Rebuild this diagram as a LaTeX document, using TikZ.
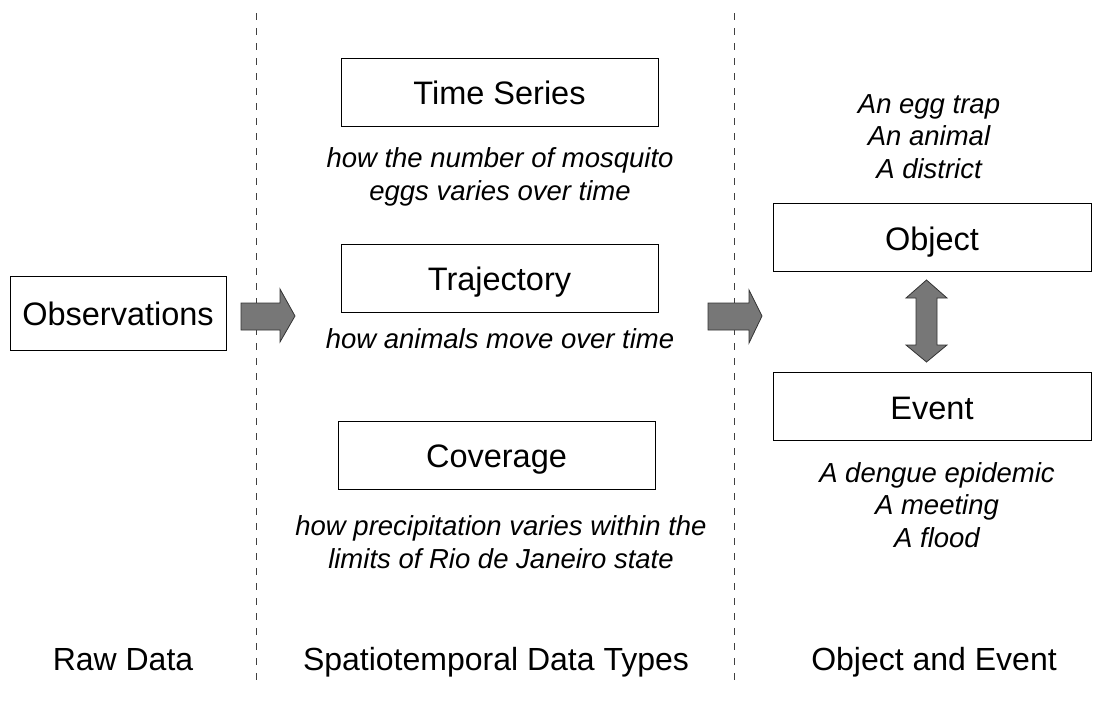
\documentclass[tikz,border=0pt]{standalone}
\usepackage{fontspec}
\setmainfont{Liberation Sans}
\usetikzlibrary{positioning,calc}
\definecolor{arrowgray}{HTML}{777777}
\tikzset{
  box/.style={draw, line width=0.9pt, minimum width=317pt, minimum height=68pt, inner sep=0pt,
    text height=25pt, text depth=0pt, font=\fontsize{32.5}{38}\selectfont},
  note/.style={align=center, inner sep=0pt, font=\fontsize{27.5}{32.5}\selectfont\itshape},
  title/.style={inner sep=0pt, font=\fontsize{32}{38}\selectfont},
  divider/.style={black!75, line width=0.9pt, dash pattern=on 7pt off 8pt},
  fatarrow/.style={fill=arrowgray, draw=black!80, line width=0.8pt, line join=miter}
}
\begin{document}
\begin{tikzpicture}[x=1pt, y=-1pt]
  \useasboundingbox (0,0) rectangle (1103,702);

  %% dividers
  \coordinate (d1top) at (256,13);
  \coordinate (d1bot) at (256,685);
  \coordinate (d2top) at (734,13);
  \coordinate (d2bot) at (734,685);
  \draw[divider] (d1top) -- (d1bot);
  \draw[divider] (d2top) -- (d2bot);

  %% raw data
  \node[box, minimum width=216pt, minimum height=74pt] (obs) at (118,313) {Observations};

  %% data types
  \node[box] (ts) at (499.5,92) {Time Series};
  \node[note, anchor=base] (tsnote) at (500,200) {how the number of mosquito\\ eggs varies over time};
  \node[box] (traj) at (499.5,278) {Trajectory};
  \node[note, anchor=base] (trajnote) at (500,348) {how animals move over time};
  \node[box] (cov) at (496.5,455) {Coverage};
  \node[note, anchor=base] (covnote) at (501,568) {how precipitation varies within the\\ limits of Rio de Janeiro state};

  %% object and event
  \node[note, anchor=base] (objnote) at (929,178) {An egg trap\\ An animal\\ A district};
  \node[box, minimum width=318pt] (obj) at (932,237.5) {Object};
  \node[box, minimum width=318pt] (evt) at (932,406.5) {Event};
  \node[note, anchor=base] (evtnote) at (937,547) {A dengue epidemic\\ A meeting\\ A flood};

  %% fat arrows
  \draw[fatarrow] (241,303) -- (280,303) -- (280,289) -- (295,316)
     -- (280,342) -- (280,330) -- (241,330) -- cycle;
  \draw[fatarrow] (708,303) -- (749,303) -- (749,290) -- (762,316)
     -- (749,343) -- (749,330) -- (708,330) -- cycle;
  \draw[fatarrow] (926.5,280) -- (947,298) -- (937,298) -- (937,345) -- (947,345)
     -- (926.5,362) -- (906,345) -- (916,345) -- (916,298) -- (906,298) -- cycle;

  %% column titles
  \node[title, anchor=base] (rawtitle) at (123,670) {Raw Data};
  \node[title, anchor=base] (sttitle) at (496,670) {Spatiotemporal Data Types};
  \node[title, anchor=base] (oetitle) at (934,670) {Object and Event};
\end{tikzpicture}
\end{document}
